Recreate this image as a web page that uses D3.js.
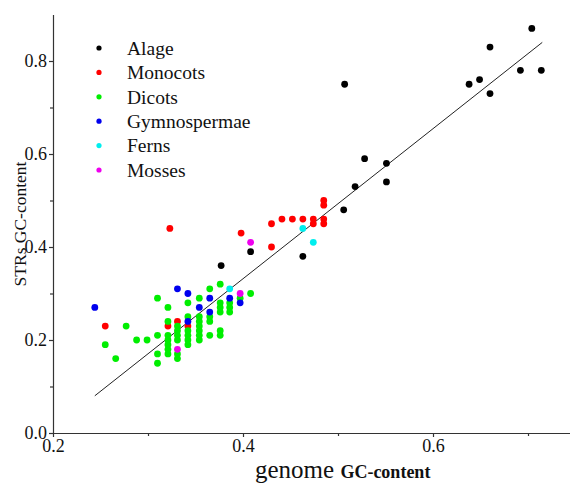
<!DOCTYPE html>
<html>
<head>
<meta charset="utf-8">
<script src="https://cdn.jsdelivr.net/npm/d3@7"></script>
<style>
  html, body { margin: 0; padding: 0; background: #fff; }
  svg { display: block; }
  text { font-family: "Liberation Serif", "Times New Roman", serif; fill: #111; }
</style>
</head>
<body>
<svg id="chart" width="570" height="485"></svg>
<script>
// ---- Data (genome GC-content, STRs GC-content) ----
const alage = [
  [0.507,0.75],[0.528,0.59],[0.551,0.58],[0.551,0.54],[0.518,0.53],
  [0.638,0.75],[0.649,0.76],[0.660,0.83],[0.660,0.73],[0.692,0.78],
  [0.704,0.87],[0.714,0.78],[0.408,0.39],[0.463,0.38],[0.506,0.48],[0.377,0.36]
];
const monocots = [
  [0.485,0.50],[0.485,0.49],[0.441,0.46],[0.452,0.46],[0.463,0.46],[0.474,0.46],
  [0.485,0.46],[0.430,0.45],[0.474,0.45],[0.485,0.45],[0.398,0.43],[0.430,0.40],
  [0.255,0.23],[0.321,0.23],[0.331,0.24],[0.342,0.23],[0.323,0.44]
];
const dicots = [
  [0.255,0.19],[0.266,0.16],[0.277,0.23],[0.288,0.20],[0.299,0.20],
  [0.310,0.29],[0.310,0.21],[0.310,0.17],[0.310,0.15],
  [0.321,0.27],[0.321,0.24],[0.321,0.21],[0.321,0.20],[0.321,0.19],[0.321,0.18],[0.321,0.17],
  [0.331,0.23],[0.331,0.22],[0.331,0.21],[0.331,0.20],[0.331,0.17],[0.331,0.16],
  [0.342,0.28],[0.342,0.25],[0.342,0.22],[0.342,0.21],[0.342,0.20],[0.342,0.19],
  [0.354,0.29],[0.354,0.25],[0.354,0.24],[0.354,0.23],[0.354,0.22],[0.354,0.21],[0.354,0.20],
  [0.365,0.31],[0.365,0.25],[0.365,0.24],[0.365,0.21],
  [0.376,0.32],[0.376,0.28],[0.376,0.27],[0.376,0.26],[0.376,0.22],[0.376,0.21],
  [0.386,0.28],[0.386,0.27],[0.386,0.26],
  [0.397,0.29],[0.408,0.30]
];
const gymnospermae = [
  [0.244,0.27],[0.331,0.31],[0.342,0.30],[0.354,0.27],[0.365,0.29],
  [0.365,0.26],[0.342,0.24],[0.386,0.29],[0.397,0.28]
];
const ferns = [[0.463,0.44],[0.474,0.41],[0.386,0.31]];
const mosses = [[0.408,0.41],[0.397,0.30],[0.331,0.18]];

const seriesNames = ["Alage","Monocots","Dicots","Gymnospermae","Ferns","Mosses"];
const seriesColors = ["#000000","#ff0000","#00ee00","#0000ee","#00eeee","#ee00ee"];
const seriesData = [alage, monocots, dicots, gymnospermae, ferns, mosses];

// regression line end points
const fitLine = [[0.244,0.080],[0.715,0.840]];

const xMajor = [0.2, 0.4, 0.6];
const xMinor = [0.3, 0.5, 0.7];
const yMajor = [0.0, 0.2, 0.4, 0.6, 0.8];
const yMinor = [0.1, 0.3, 0.5, 0.7];

// ---- Drawing ----
const SERIF = '"Liberation Serif", "Times New Roman", serif';
const svg = d3.select("#chart");
const x = d3.scaleLinear().domain([0.2, 0.75]).range([53, 575.5]);
const y = d3.scaleLinear().domain([0, 0.9]).range([433, 14.5]);

// fit line
svg.append("path")
  .datum(fitLine)
  .attr("d", d3.line().x(d => x(d[0])).y(d => y(d[1])))
  .attr("fill", "none").attr("stroke", "#222").attr("stroke-width", 1);

// points
seriesData.forEach((data, i) => {
  svg.append("g").selectAll("circle").data(data).join("circle")
    .attr("cx", d => x(d[0])).attr("cy", d => y(d[1]))
    .attr("r", 3.4).attr("fill", seriesColors[i]);
});

// axes
const fmt = d3.format(".1f");
const gx = svg.append("g").attr("transform", "translate(0,433)");
gx.call(d3.axisBottom(x).tickValues(xMajor).tickSize(4).tickSizeOuter(0).tickPadding(2).tickFormat(fmt));
gx.append("g").call(d3.axisBottom(x).tickValues(xMinor).tickSize(3).tickSizeOuter(0).tickFormat(""))
  .select(".domain").remove();
const gy = svg.append("g").attr("transform", "translate(53,0)");
gy.call(d3.axisLeft(y).tickValues(yMajor).tickSize(4).tickSizeOuter(0).tickPadding(2).tickFormat(fmt));
gy.append("g").call(d3.axisLeft(y).tickValues(yMinor).tickSize(3).tickSizeOuter(0).tickFormat(""))
  .select(".domain").remove();
svg.selectAll("g").attr("font-family", SERIF);
svg.selectAll(".domain, .tick line").attr("stroke", "#333").attr("stroke-width", 1.2);
svg.selectAll(".tick text")
  .attr("font-family", SERIF)
  .style("font-family", SERIF)
  .style("font-size", "18px").attr("fill", "#111");

// legend
const leg = svg.append("g");
seriesNames.forEach((name, i) => {
  const ly = 48 + i * 24.4;
  leg.append("circle").attr("cx", 99).attr("cy", ly).attr("r", 2.6).attr("fill", seriesColors[i]);
  leg.append("text").attr("x", 127).attr("y", ly).attr("dy", "0.35em")
    .attr("font-family", SERIF)
    .style("font-size", "19.5px").text(name);
});

// axis titles
svg.append("text")
  .attr("transform", "translate(26,224) rotate(-90)")
  .attr("text-anchor", "middle")
  .attr("font-family", SERIF)
  .style("font-size", "17.5px")
  .text("STRs GC-content");

const xt = svg.append("text").attr("x", 255).attr("y", 478).attr("font-family", SERIF);
xt.append("tspan").style("font-size", "25px").text("genome ");
xt.append("tspan").style("font-size", "18px").style("font-weight", "bold").text("GC-content");
</script>
</body>
</html>
